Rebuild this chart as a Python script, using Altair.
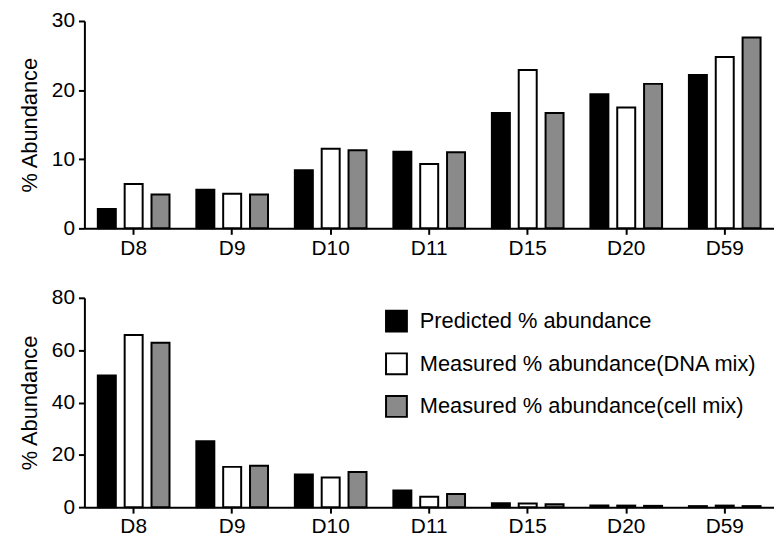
import altair as alt
import pandas as pd

categories = ["D8", "D9", "D10", "D11", "D15", "D20", "D59"]
series = [
    "Predicted % abundance",
    "Measured % abundance(DNA mix)",
    "Measured % abundance(cell mix)",
]

top_predicted = [2.8, 5.6, 8.4, 11.1, 16.7, 19.4, 22.2]
top_dna = [6.4, 5.0, 11.5, 9.3, 22.9, 17.5, 24.8]
top_cell = [4.9, 4.9, 11.3, 11.0, 16.7, 20.9, 27.6]

bottom_predicted = [50.3, 25.2, 12.5, 6.4, 1.5, 0.6, 0.4]
bottom_dna = [65.8, 15.4, 11.3, 4.0, 1.4, 0.6, 0.6]
bottom_cell = [62.8, 15.8, 13.4, 5.0, 1.1, 0.5, 0.4]

FONT = "Liberation Sans"
FILLS = ["#000000", "#ffffff", "#8a8a8a"]


def make_df(p, d, c):
    rows = []
    for i, cat in enumerate(categories):
        for s, vals in zip(series, (p, d, c)):
            rows.append({"cat": cat, "series": s, "value": vals[i]})
    return pd.DataFrame(rows)


def panel(df, ymax, yvals, height, legend):
    return (
        alt.Chart(df)
        .mark_bar(stroke="black", strokeWidth=2)
        .encode(
            x=alt.X(
                "cat:N",
                sort=categories,
                title=None,
                scale=alt.Scale(paddingInner=0, paddingOuter=0),
                axis=alt.Axis(labelAngle=0, labelPadding=3),
            ),
            xOffset=alt.XOffset(
                "series:N",
                sort=series,
                scale=alt.Scale(paddingInner=0.33, paddingOuter=0.5),
            ),
            y=alt.Y(
                "value:Q",
                title="% Abundance",
                scale=alt.Scale(domain=[0, ymax], nice=False),
                axis=alt.Axis(values=yvals, labelPadding=4, titlePadding=10),
            ),
            color=alt.Color(
                "series:N",
                sort=series,
                scale=alt.Scale(domain=series, range=FILLS),
                legend=legend,
            ),
        )
        .properties(width=695, height=height)
    )


top = panel(make_df(top_predicted, top_dna, top_cell), 30, [0, 10, 20, 30], 209, None)
bottom = panel(
    make_df(bottom_predicted, bottom_dna, bottom_cell),
    80,
    [0, 20, 40, 60, 80],
    211,
    alt.Legend(
        orient="none",
        legendX=303,
        legendY=12,
        title=None,
        symbolType="square",
        symbolSize=441,
        symbolStrokeColor="black",
        symbolStrokeWidth=2,
        symbolOpacity=1,
        labelFont=FONT,
        labelFontSize=22,
        labelColor="black",
        labelOffset=12,
        rowPadding=14,
        labelLimit=400,
    ),
)

chart = (
    alt.vconcat(top, bottom, spacing=29)
    .resolve_scale(color="independent")
    .properties(padding={"left": 10, "top": 0, "right": 0, "bottom": 0})
    .configure_view(stroke=None)
    .configure_axis(
        domainColor="black",
        domainWidth=2,
        tickColor="black",
        tickWidth=2,
        tickSize=6,
        grid=False,
        labelFont=FONT,
        labelFontSize=21,
        labelColor="black",
        titleFont=FONT,
        titleFontSize=22,
        titleFontWeight="normal",
        titleColor="black",
    )
)

chart.save("out.html", embed_options={"renderer": "svg", "actions": False})
